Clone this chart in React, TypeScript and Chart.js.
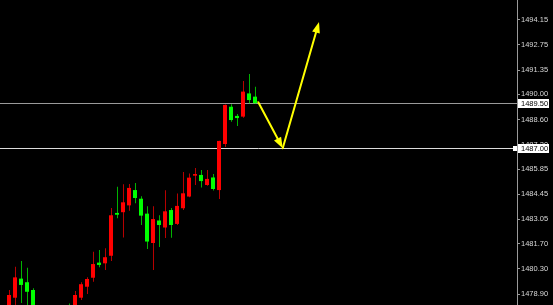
import { useEffect, useRef } from "react";
import { Chart, registerables } from "chart.js";

Chart.register(...registerables);

// OHLC per bar, left to right. null = bar sits below the visible price range.
const opens: (number | null)[] = [
  1478.02, 1478.7, 1479.76, 1479.56, 1479.13, null, null, null, null, null,
  1478.1, 1478.0, 1478.7, 1479.31, 1479.81, 1480.65, 1480.61, 1481.03, 1483.41, 1483.45,
  1483.83, 1484.68, 1484.2, 1483.37, 1481.74, 1482.99, 1482.6, 1483.57, 1482.8, 1483.67,
  1484.32, 1485.48, 1485.52, 1484.96, 1485.38, 1484.68, 1487.24, 1489.31, 1488.8, 1488.76,
  1490.05, 1489.87,
];
const highs: (number | null)[] = [
  1479.13, 1480.42, 1480.74, 1480.37, 1479.22, null, null, null, null, null,
  1478.38, 1479.07, 1479.56, 1479.83, 1481.26, 1481.35, 1481.45, 1483.68, 1484.87, 1485.0,
  1485.02, 1485.07, 1484.33, 1483.78, 1483.78, 1483.28, 1484.67, 1483.68, 1484.49, 1485.68,
  1485.6, 1485.91, 1485.8, 1485.8, 1485.57, 1487.42, 1489.43, 1489.45, 1488.9, 1490.74,
  1491.13, 1490.42,
];
const lows: (number | null)[] = [
  1477.74, 1478.13, 1478.41, 1478.2, 1477.8, null, null, null, null, null,
  1477.5, 1477.7, 1478.57, 1478.91, 1479.59, 1480.39, 1480.24, 1480.74, 1483.11, 1482.05,
  1483.53, 1483.95, 1482.74, 1481.41, 1480.24, 1481.52, 1482.02, 1482.03, 1482.74, 1483.57,
  1484.28, 1484.96, 1484.82, 1484.92, 1484.65, 1484.18, 1487.07, 1488.48, 1488.24, 1488.7,
  1489.5, 1489.5,
];
const closes: (number | null)[] = [
  1478.85, 1479.83, 1479.41, 1479.03, 1478.0, null, null, null, null, null,
  1477.7, 1478.85, 1479.45, 1479.74, 1480.57, 1480.52, 1480.95, 1483.28, 1483.31, 1484.0,
  1484.8, 1484.24, 1483.26, 1481.82, 1483.07, 1482.74, 1483.5, 1482.74, 1483.8, 1484.5,
  1485.37, 1485.57, 1485.18, 1485.3, 1484.74, 1487.41, 1489.41, 1488.57, 1488.68, 1490.15,
  1489.68, 1489.5,
];

// Right-hand price scale labels
const priceTicks = [
  1494.15, 1492.75, 1491.35, 1490.0, 1488.6, 1487.2, 1485.85, 1484.45, 1483.05, 1481.7,
  1480.3, 1478.9,
];

// Horizontal price levels with their tags on the scale
const levelPrices = [1489.5, 1487.0];
const levelColors = ["#9a9a9a", "#dcdcdc"];

// Projected path: [bar index, price]
const arrowPath: [number, number][] = [
  [41.55, 1489.56],
  [45.62, 1487.0],
  [51.67, 1494.02],
];

const Y_MIN = 1478.295;
const Y_MAX = 1495.239;
const X_MIN = -1.5;
const X_MAX = 84.667;

const UP_BODY = "#ff0000";
const DOWN_BODY = "#00ff00";
const UP_WICK = "#b80000";
const DOWN_WICK = "#00b400";
const AXIS_COLOR = "#9a9a9a";
const LABEL_FONT = { family: "'Liberation Sans', Arial, sans-serif", size: 7.5 };

const overlay = {
  id: "overlay",
  beforeDatasetsDraw(chart: any) {
    const { ctx, chartArea, scales } = chart;
    const y = scales.y;
    levelPrices.forEach((v, k) => {
      const py = Math.round(y.getPixelForValue(v)) + 0.5;
      ctx.save();
      ctx.strokeStyle = levelColors[k];
      ctx.lineWidth = 1;
      ctx.beginPath();
      ctx.moveTo(chartArea.left, py);
      ctx.lineTo(chartArea.right, py);
      ctx.stroke();
      ctx.restore();
    });
  },
  afterDatasetsDraw(chart: any) {
    const { ctx, scales } = chart;
    const pts = arrowPath.map(([i, p]) => [scales.x.getPixelForValue(i), scales.y.getPixelForValue(p)]);
    ctx.save();
    ctx.strokeStyle = "#ffff00";
    ctx.fillStyle = "#ffff00";
    ctx.lineWidth = 2;
    ctx.lineCap = "round";
    for (let k = 0; k < pts.length - 1; k++) {
      const [x0, y0] = pts[k];
      const [x1, y1] = pts[k + 1];
      const ang = Math.atan2(y1 - y0, x1 - x0);
      const headLen = 11;
      const headHalf = 4;
      const bx = x1 - Math.cos(ang) * headLen;
      const by = y1 - Math.sin(ang) * headLen;
      ctx.beginPath();
      ctx.moveTo(x0, y0);
      ctx.lineTo(bx, by);
      ctx.stroke();
      ctx.beginPath();
      ctx.moveTo(x1, y1);
      ctx.lineTo(bx + Math.sin(ang) * headHalf, by - Math.cos(ang) * headHalf);
      ctx.lineTo(bx - Math.sin(ang) * headHalf, by + Math.cos(ang) * headHalf);
      ctx.closePath();
      ctx.fill();
    }
    ctx.restore();
  },
  afterDraw(chart: any) {
    const { ctx, chartArea, scales } = chart;
    const y = scales.y;
    levelPrices.forEach((v, k) => {
      const py = Math.round(y.getPixelForValue(v));
      ctx.save();
      if (k === 1) {
        ctx.fillStyle = "#ffffff";
        ctx.fillRect(chartArea.right - 4, py - 2, 4, 5);
      }
      ctx.fillStyle = "#ffffff";
      ctx.fillRect(chartArea.right + 1, py - 4, 31, 9);
      ctx.fillStyle = "#000000";
      ctx.font = `${LABEL_FONT.size}px ${LABEL_FONT.family}`;
      ctx.textBaseline = "middle";
      ctx.textAlign = "left";
      ctx.fillText(v.toFixed(2), chartArea.right + 4, py + 0.5);
      ctx.restore();
    });
  },
};

export default function App() {
  const canvasRef = useRef<HTMLCanvasElement | null>(null);

  useEffect(() => {
    if (!canvasRef.current) return;
    const bodies: any[] = [];
    const wicks: any[] = [];
    const bodyColors: string[] = [];
    const wickColors: string[] = [];
    // wick bars are 1px wide; half-pixel nudge keeps them on a single pixel column
    const wickNudge = 0.5 / ((553 - 36) / (X_MAX - X_MIN));
    opens.forEach((o, i) => {
      const c = closes[i];
      const h = highs[i];
      const l = lows[i];
      if (o === null || c === null || h === null || l === null) return;
      const up = c >= o;
      bodies.push({ x: i, y: [o, c] });
      wicks.push({ x: i + wickNudge, y: [l, h] });
      bodyColors.push(up ? UP_BODY : DOWN_BODY);
      wickColors.push(up ? UP_WICK : DOWN_WICK);
    });

    const chart = new Chart(canvasRef.current, {
      type: "bar",
      data: {
        datasets: [
          {
            data: bodies,
            backgroundColor: bodyColors,
            borderWidth: 0,
            barThickness: 4,
            grouped: false,
            inflateAmount: 0,
          } as any,
          {
            data: wicks,
            backgroundColor: wickColors,
            borderWidth: 0,
            barThickness: 1,
            grouped: false,
            inflateAmount: 0,
          } as any,
        ],
      },
      options: {
        animation: false,
        responsive: false,
        maintainAspectRatio: false,
        layout: { padding: 0 },
        plugins: { legend: { display: false }, tooltip: { enabled: false } },
        scales: {
          x: {
            type: "linear",
            min: X_MIN,
            max: X_MAX,
            offset: false,
            display: false,
          },
          y: {
            type: "linear",
            position: "right",
            min: Y_MIN,
            max: Y_MAX,
            beginAtZero: false,
            afterBuildTicks: (scale: any) => {
              scale.ticks = priceTicks.map((v) => ({ value: v }));
            },
            afterFit: (scale: any) => {
              scale.width = 36;
              scale.paddingTop = 0;
              scale.paddingBottom = 0;
            },
            border: { display: true, color: AXIS_COLOR, width: 1 },
            grid: {
              drawOnChartArea: false,
              drawTicks: true,
              tickLength: 3,
              color: AXIS_COLOR,
            },
            ticks: {
              autoSkip: false,
              padding: 1,
              color: "#d8d8d8",
              font: LABEL_FONT,
              callback: (v: any) => Number(v).toFixed(2),
            },
          },
        },
      },
      plugins: [overlay],
    });
    return () => chart.destroy();
  }, []);

  return (
    <div style={{ position: "absolute", left: 0, top: 0, width: 553, height: 305, background: "#000" }}>
      <canvas ref={canvasRef} width={553} height={305} />
    </div>
  );
}
